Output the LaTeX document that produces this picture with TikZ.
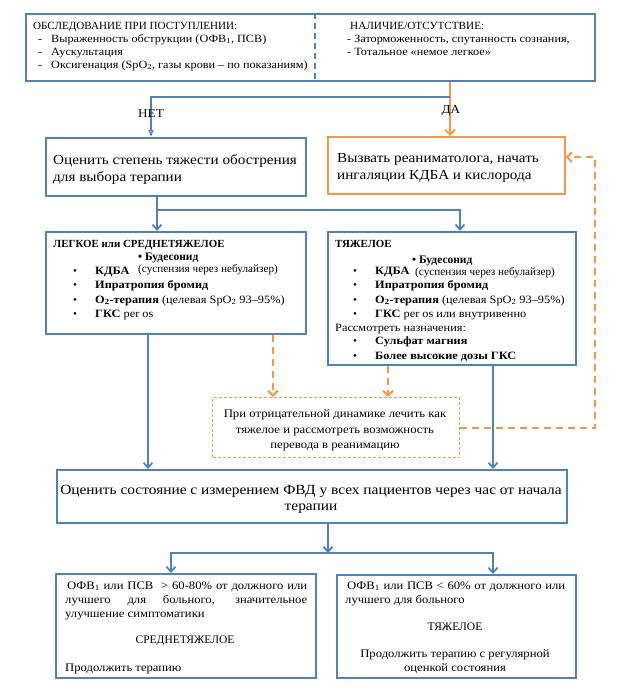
\documentclass[tikz,border=0pt]{standalone}
\usepackage{fontspec}
\usepackage{graphicx}
\setmainfont{Liberation Serif}[FakeStretch=1.1]
\newfontfamily\tnr{Liberation Serif}
\usetikzlibrary{arrows.meta,calc}
\definecolor{bl}{RGB}{79,129,189}
\definecolor{orn}{RGB}{247,150,70}
\newcommand\fs[2]{\fontsize{#1}{#2}\selectfont}
\newcommand\fitw[2]{\resizebox{#1}{\height}{#2}}
\tikzset{
  bbox/.style={draw=bl,line width=1.8pt,fill=white,anchor=north west,inner sep=0pt},
  obox/.style={draw=orn,line width=1.5pt,fill=white,anchor=north west,inner sep=0pt},
  dbox/.style={draw=orn,line width=1pt,dash pattern=on 3pt off 2pt,fill=white,anchor=north west,inner sep=0pt},
  txt/.style={inner sep=0pt,anchor=base west},
  ctxt/.style={inner sep=0pt,anchor=base},
  barrow/.style={draw=bl,line width=1.8pt,-{Straight Barb[length=5pt,width=9pt]}},
  tharrow/.style={draw=bl,line width=1.3pt,-{Triangle[open,length=7pt,width=5pt]}},
  oarrow/.style={draw=orn,line width=2pt,-{Straight Barb[length=5pt,width=10pt]}},
  odarrow/.style={draw=orn,line width=2pt,dash pattern=on 7pt off 5pt,-{Straight Barb[length=5pt,width=10pt]}},
}
\begin{document}
\begin{tikzpicture}[x=1pt,y=-1pt]
\useasboundingbox (0,0) rectangle (623,699);
% boxes
\node[bbox,minimum width=569pt,minimum height=67pt] (top) at (25,13) {};
\node[bbox,minimum width=260pt,minimum height=58pt] (box1) at (45,137) {};
\node[obox,minimum width=237pt,minimum height=57pt] (obx) at (327,136) {};
\node[bbox,minimum width=260pt,minimum height=102pt] (boxL) at (45,231) {};
\node[bbox,minimum width=248pt,minimum height=133pt] (boxR) at (327,231) {};
\node[dbox,minimum width=247pt,minimum height=60pt] (dbx) at (212,397) {};
\node[bbox,minimum width=510pt,minimum height=53pt] (big) at (56,469) {};
\node[bbox,minimum width=260pt,minimum height=104pt] (boxBL) at (55,573) {};
\node[bbox,minimum width=239pt,minimum height=103pt] (boxBR) at (336,574) {};
% helper coordinates
\coordinate (xd) at (315,0);
\coordinate (xa) at (450,0);
\coordinate (ja) at (450,97);
\coordinate (xn) at (151,0);
\coordinate (xs) at (157,0);
\coordinate (js) at (157,210);
\coordinate (xr) at (460,0);
\coordinate (xl2) at (148,0);
\coordinate (xr2) at (493,0);
\coordinate (xo1) at (273,0);
\coordinate (xo2) at (388,0);
\coordinate (kk) at (595,157);
\coordinate (xc) at (328,0);
\coordinate (jc) at (328,553);
\coordinate (xbl) at (171,0);
% divider
\draw[draw=bl,line width=1.5pt,dash pattern=on 6pt off 4pt] (top.north -| xd) -- (top.south -| xd);
% connectors
\draw[oarrow] (top.south -| xa) -- (obx.north -| xa);
\draw[tharrow] (ja) -| (box1.north -| xn);
\draw[barrow] (box1.south -| xs) -- (boxL.north -| xs);
\draw[barrow] (js) -| (boxR.north -| xr);
\draw[barrow] (boxL.south -| xl2) -- (big.north -| xl2);
\draw[barrow] (boxR.south -| xr2) -- (big.north -| xr2);
\draw[odarrow] (boxL.south -| xo1) -- (dbx.north -| xo1);
\draw[odarrow] (boxR.south -| xo2) -- (dbx.north -| xo2);
\draw[odarrow] (dbx.east) -| (kk) -- (kk -| obx.east);
\draw[barrow] (big.south -| xc) -- (jc);
\draw[barrow] (jc) -| (boxBL.north -| xbl);
\draw[barrow] (jc) -| (boxBR.north -| xr2);
% labels
\node[ctxt,font=\fs{12}{13}] (net) at (151,117) {НЕТ};
\node[ctxt,font=\fs{12}{13}] (da) at (451,113) {ДА};
% top box text
\begin{scope}[every node/.style={txt,font=\fs{11.1}{13}}]
\node[font=\fs{11}{13}\tnr] (h1) at (33,29) {\fitw{204pt}{ОБСЛЕДОВАНИЕ ПРИ ПОСТУПЛЕНИИ:}};
\node (d1) at (38,42) {-};
\node (l1) at (51,42) {Выраженность обструкции (ОФВ\textsubscript{1}, ПСВ)};
\node (d2) at (38,55) {-};
\node (l2) at (51,55) {Аускультация};
\node (d3) at (38,68) {-};
\node (l3) at (51,68) {Оксигенация (SpO\textsubscript{2}, газы крови – по показаниям)};
\node[font=\fs{11}{13}\tnr] (h2) at (350,29) {\fitw{134pt}{НАЛИЧИЕ/ОТСУТСТВИЕ:}};
\node (r1) at (347,42) {- Заторможенность, спутанность сознания,};
\node (r2) at (347,55) {- Тотальное «немое легкое»};
\end{scope}
% box1 / orange box
\begin{scope}[every node/.style={txt,font=\fs{13.8}{17}}]
\node (b1a) at (53,164) {Оценить степень тяжести обострения};
\node (b1b) at (53,181) {для выбора терапии};
\node (o1a) at (337,162) {Вызвать реаниматолога, начать};
\node (o1b) at (337,179) {ингаляции КДБА и кислорода};
\end{scope}
% box L
\begin{scope}[every node/.style={txt,font=\fs{11.2}{14}}]
\node[font=\fs{10.9}{14}\tnr\bfseries] (lt) at (53,247) {ЛЕГКОЕ или СРЕДНЕТЯЖЕЛОЕ};
\node[font=\fs{11.5}{14}\tnr\bfseries] (lbu) at (138,260) {• Будесонид};
\node[font=\fs{11.2}{14}\tnr] (lsu) at (138,272) {(суспензия через небулайзер)};
\node[font=\fs{11}{14}\tnr] (lb1) at (73,274) {•};
\node[font=\fs{11.2}{14}\bfseries] (lk) at (95,274) {КДБА};
\node[font=\fs{11}{14}\tnr] (lb2) at (73,288) {•};
\node[font=\fs{11.2}{14}\bfseries] (li) at (95,288) {Ипратропия бромид};
\node[font=\fs{11}{14}\tnr] (lb3) at (73,303) {•};
\node (lo) at (95,303) {\textbf{О\textsubscript{2}-терапия} (целевая SpO\textsubscript{2} 93–95\%)};
\node[font=\fs{11}{14}\tnr] (lb4) at (73,317) {•};
\node (lg) at (95,317) {\textbf{ГКС} per os};
\end{scope}
% box R
\begin{scope}[every node/.style={txt,font=\fs{11.2}{14}}]
\node[font=\fs{10.9}{14}\tnr\bfseries] (rt) at (335,247) {ТЯЖЕЛОЕ};
\node[font=\fs{11.5}{14}\tnr\bfseries] (rbu) at (412,263) {• Будесонид};
\node[font=\fs{11.2}{14}\tnr] (rsu) at (415,275) {(суспензия через небулайзер)};
\node[font=\fs{11}{14}\tnr] (rb1) at (353,274) {•};
\node[font=\fs{11.2}{14}\bfseries] (rk) at (375,274) {КДБА};
\node[font=\fs{11}{14}\tnr] (rb2) at (353,288) {•};
\node[font=\fs{11.2}{14}\bfseries] (ri) at (375,288) {Ипратропия бромид};
\node[font=\fs{11}{14}\tnr] (rb3) at (353,303) {•};
\node (ro) at (375,303) {\textbf{О\textsubscript{2}-терапия} (целевая SpO\textsubscript{2} 93–95\%)};
\node[font=\fs{11}{14}\tnr] (rb4) at (353,317) {•};
\node (rg) at (375,317) {\textbf{ГКС} per os или внутривенно};
\node (rr) at (335,331) {Рассмотреть назначения:};
\node[font=\fs{11}{14}\tnr] (rb5) at (353,344) {•};
\node[font=\fs{11.2}{14}\bfseries] (rm) at (375,344) {Сульфат магния};
\node[font=\fs{11}{14}\tnr] (rb6) at (353,359) {•};
\node[font=\fs{11.2}{14}\bfseries] (rh) at (375,359) {Более высокие дозы ГКС};
\end{scope}
% dashed box
\begin{scope}[every node/.style={ctxt,font=\fs{11.6}{16}}]
\node (da1) at (335,417) {При отрицательной динамике лечить как};
\node (da2) at (335,433) {тяжелое и рассмотреть возможность};
\node (da3) at (335,448) {перевода в реанимацию};
\end{scope}
% big box
\begin{scope}[every node/.style={ctxt,font=\fs{14}{17}}]
\node (bg1) at (311,494) {Оценить состояние с измерением ФВД у всех пациентов через час от начала};
\node (bg2) at (311,510) {терапии};
\end{scope}
% bottom left
\begin{scope}[every node/.style={txt,font=\fs{11.5}{14}}]
\node (bl1) at (67,589) {\makebox[240pt][s]{ОФВ\textsubscript{1} или ПСВ\ \ > 60-80\% от должного или}};
\node (bl2) at (65,603) {\makebox[242pt][s]{лучшего для больного, значительное}};
\node (bl3) at (65,617) {улучшение симптоматики};
\node[ctxt,font=\fs{11.5}{14}\tnr] (bl4) at (185,643) {СРЕДНЕТЯЖЕЛОЕ};
\node (bl5) at (65,671) {Продолжить терапию};
\end{scope}
% bottom right
\begin{scope}[every node/.style={txt,font=\fs{11.5}{14}}]
\node (br1) at (347,589) {\makebox[218pt][s]{ОФВ\textsubscript{1} или ПСВ < 60\% от должного или}};
\node (br2) at (345,603) {лучшего для больного};
\node[ctxt,font=\fs{11.5}{14}\tnr] (br3) at (455,630) {ТЯЖЕЛОЕ};
\node[ctxt] (br4) at (455,657) {Продолжить терапию с регулярной};
\node[ctxt] (br5) at (455,671) {оценкой состояния};
\end{scope}
\end{tikzpicture}
\end{document}
